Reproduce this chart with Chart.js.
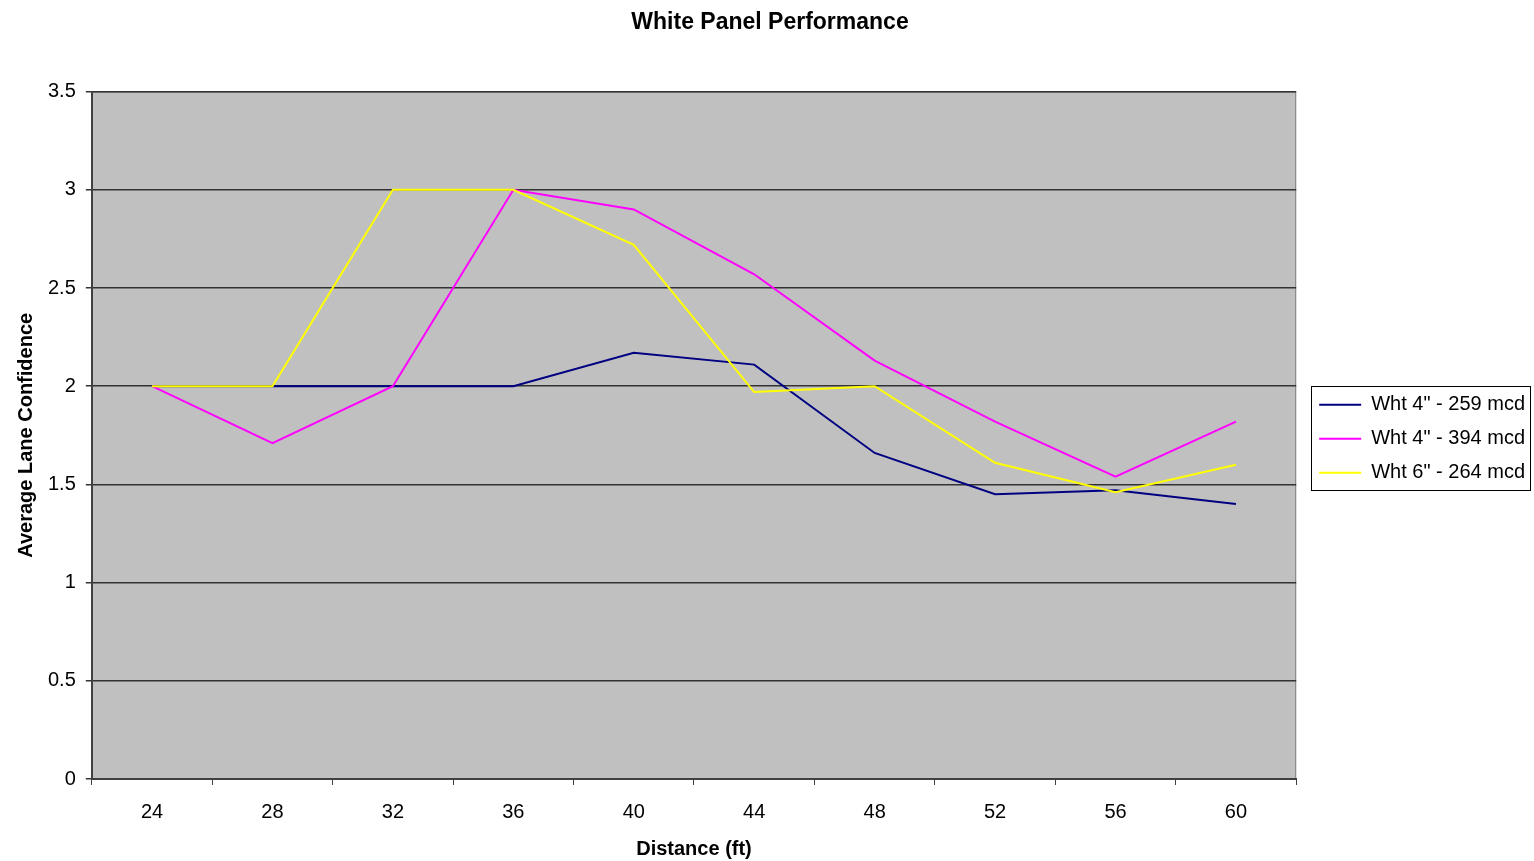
<!DOCTYPE html>
<html>
<head>
<meta charset="utf-8">
<title>White Panel Performance</title>
<script src="https://cdn.jsdelivr.net/npm/chart.js@4"></script>
<style>
    html, body { margin: 0; padding: 0; background: #ffffff; }
    #wrap { width: 1534px; height: 861px; }
</style>
</head>
<body>
<div id="wrap"><canvas id="chart"></canvas></div>
<script>
const distances = ["24", "28", "32", "36", "40", "44", "48", "52", "56", "60"];
const wht4_259 = [2, 2, 2, 2, 2.17, 2.11, 1.66, 1.45, 1.47, 1.40];
const wht4_394 = [2, 1.71, 2, 3, 2.90, 2.57, 2.13, 1.82, 1.54, 1.82];
const wht6_264 = [2, 2, 3, 3, 2.72, 1.97, 2, 1.61, 1.46, 1.60];
const yTicks = [0, 0.5, 1, 1.5, 2, 2.5, 3, 3.5];

const fontFamily = "'Liberation Sans', Arial, sans-serif";

// grey plot background
const plotBackground = {
    id: "plotBackground",
    beforeDraw(chart) {
        const { ctx, chartArea: a } = chart;
        ctx.save();
        ctx.fillStyle = "#c0c0c0";
        ctx.fillRect(a.left, a.top, a.right - a.left, a.bottom - a.top);
        ctx.strokeStyle = "#808080";
        ctx.lineWidth = 1;
        ctx.strokeRect(a.left + 0.5, a.top + 0.5, a.right - a.left - 1, a.bottom - a.top - 1);
        ctx.restore();
    },
};

// move the legend a little away from the plot, centred on it
const legendPlace = {
    id: "legendPlace",
    afterLayout(chart) {
        const legend = chart.legend;
        const a = chart.chartArea;
        const dx = a.right + 9 - legend.left;
        legend.left += dx;
        legend.right += dx;
        const dy = ((a.top + a.bottom) + 7 - (legend.top + legend.bottom)) / 2;
        legend.top += dy;
        legend.bottom += dy;
    },
};

// box round the legend
const legendBorder = {
    id: "legendBorder",
    afterDraw(chart) {
        const boxes = chart.legend.legendHitBoxes;
        if (!boxes || !boxes.length) return;
        const left = Math.min(...boxes.map(b => b.left));
        const top = Math.min(...boxes.map(b => b.top));
        const right = Math.max(...boxes.map(b => b.left + b.width));
        const bottom = Math.max(...boxes.map(b => b.top + b.height));
        const ctx = chart.ctx;
        ctx.save();
        ctx.strokeStyle = "#000000";
        ctx.lineWidth = 1;
        ctx.strokeRect(Math.round(left - 8) + 0.5, Math.round(top - 9) + 0.5,
            Math.round(right - left + 13), Math.round(bottom - top + 16));
        ctx.restore();
    },
};

function series(label, data, color, order) {
    return {
        label: label,
        data: data,
        borderColor: color,
        backgroundColor: color,
        borderWidth: 2,
        pointRadius: 0,
        fill: false,
        tension: 0,
        order: order,
    };
}

new Chart(document.getElementById("chart"), {
    type: "line",
    data: {
        labels: distances,
        datasets: [
            series('Wht 4" - 259 mcd', wht4_259, "#000080", 2),
            series('Wht 4" - 394 mcd', wht4_394, "#ff00ff", 1),
            series('Wht 6" - 264 mcd', wht6_264, "#ffff00", 0),
        ],
    },
    options: {
        responsive: true,
        maintainAspectRatio: false,
        animation: false,
        layout: { padding: { left: 14, right: 8, top: 9, bottom: 0 } },
        plugins: {
            title: {
                display: true,
                text: "White Panel Performance",
                color: "#000000",
                font: { family: fontFamily, size: 23, weight: "bold" },
                padding: { top: 0, bottom: 55 },
            },
            legend: {
                position: "right",
                labels: {
                    color: "#000000",
                    font: { family: fontFamily, size: 20 },
                    usePointStyle: true,
                    pointStyle: "line",
                    pointStyleWidth: 42,
                    padding: 14,
                    sort: (a, b) => a.datasetIndex - b.datasetIndex,
                },
            },
            tooltip: { enabled: false },
        },
        scales: {
            x: {
                offset: true,
                grid: {
                    offset: true,
                    drawOnChartArea: false,
                    drawTicks: true,
                    tickLength: 6,
                    color: "#404040",
                },
                border: { color: "#404040", width: 2 },
                ticks: {
                    color: "#000000",
                    font: { family: fontFamily, size: 20 },
                    padding: 15,
                    maxRotation: 0,
                },
                title: {
                    display: true,
                    text: "Distance (ft)",
                    color: "#000000",
                    font: { family: fontFamily, size: 20, weight: "bold" },
                    padding: { top: -2, bottom: 0 },
                },
            },
            y: {
                min: 0,
                max: 3.5,
                afterBuildTicks(scale) {
                    scale.ticks = yTicks.map(v => ({ value: v }));
                },
                grid: {
                    color: "#333333",
                    lineWidth: 1.5,
                    drawTicks: true,
                    tickLength: 6,
                },
                border: { color: "#404040", width: 2 },
                ticks: {
                    color: "#000000",
                    font: { family: fontFamily, size: 20 },
                    padding: 10,
                    callback: v => String(v),
                },
                title: {
                    display: true,
                    text: "Average Lane Confidence",
                    color: "#000000",
                    font: { family: fontFamily, size: 20, weight: "bold" },
                    padding: { top: 0, bottom: 0 },
                },
            },
        },
    },
    plugins: [plotBackground, legendPlace, legendBorder],
});
</script>
</body>
</html>
